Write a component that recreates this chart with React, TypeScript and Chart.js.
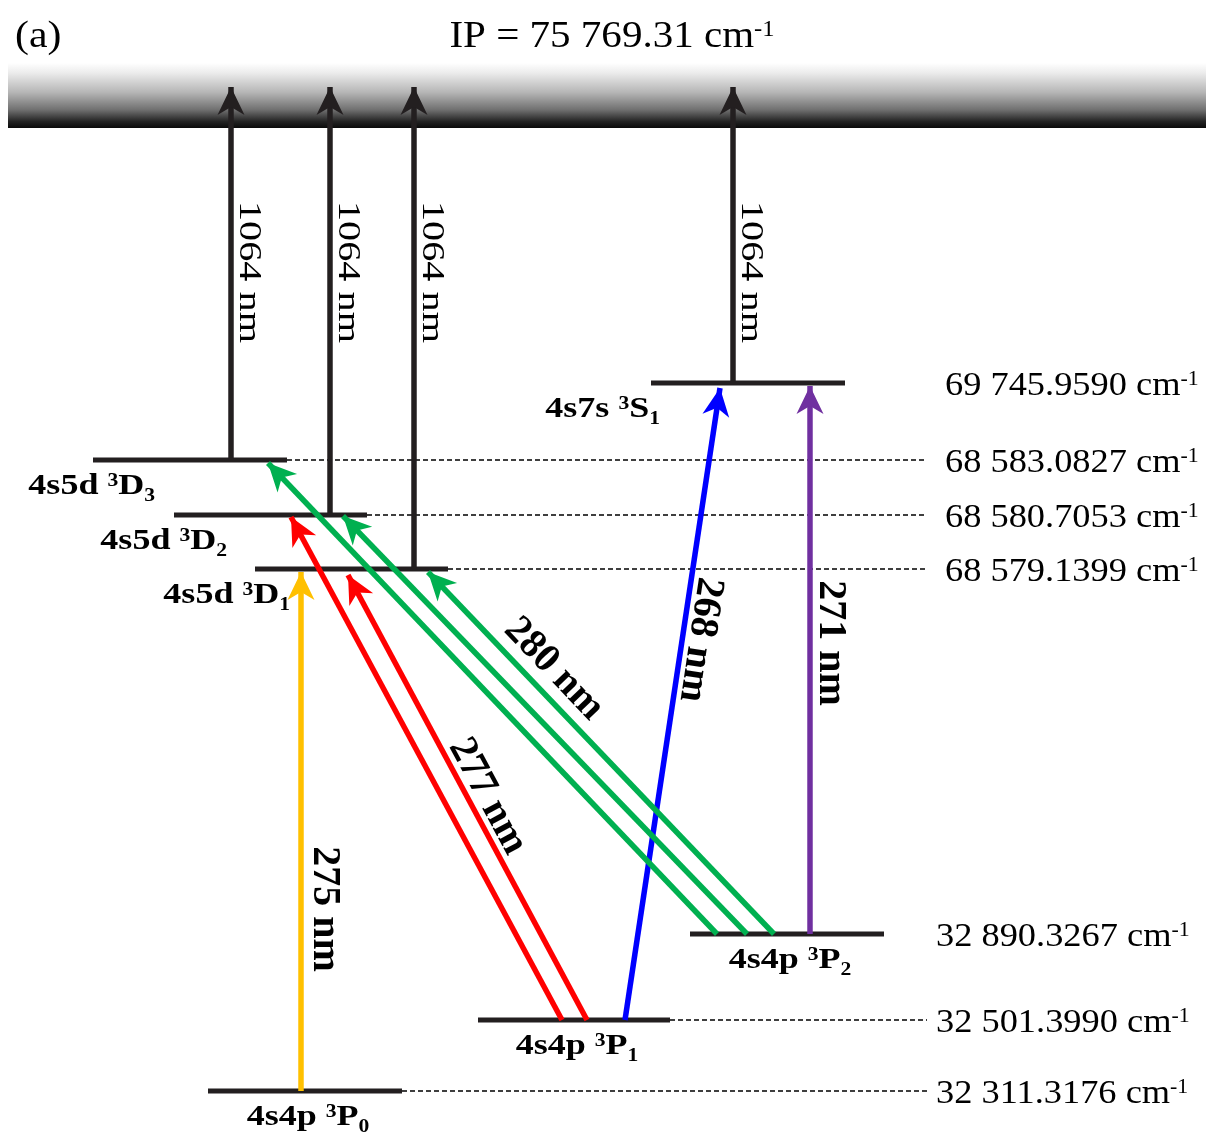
import React, { useEffect, useRef } from 'react';
import { Chart, registerables } from 'chart.js';

Chart.register(...registerables);

const W = 1206;
const H = 1136;

// ---- Energy levels (schematic diagram; heights in drawing units from the bottom) ----
const levelConfig = ['4s4p', '4s4p', '4s4p', '4s5d', '4s5d', '4s5d', '4s7s'];
const levelTerm = ['P', 'P', 'P', 'D', 'D', 'D', 'S'];
const levelJ = ['0', '1', '2', '1', '2', '3', '1'];
const levelEnergy = [32311.3176, 32501.399, 32890.3267, 68579.1399, 68580.7053, 68583.0827, 69745.959];
const levelHeight = [45, 116, 202, 567, 621, 676, 753];
const levelLeft = [208, 478, 690, 255, 174, 93, 651];
const levelRight = [402, 670, 884, 448, 367, 287, 845];
const levelDashed = [true, true, false, true, true, true, false];
const dashEnd = 927;

// ---- Ionization limit ----
const ipEnergy = 75769.31;
const ipBottom = 1008;
const ipTop = 1073;

// ---- Ionizing arrows (1064 nm) ----
const ionFromLevel = [5, 4, 3, 6];
const ionX = [231, 330, 414, 733];
const ionTipHeight = 1049;
const ionLabel = '1064 nm';

// ---- Excitation arrows ----
const excFromLevel = [0, 1, 1, 2, 2, 2, 1, 2];
const excFromX = [301, 562, 587, 717, 747, 774, 625, 810];
const excToX = [301, 291, 348, 268, 343, 428, 720, 810];
const excTipHeight = [564, 619, 561, 673, 620, 564, 748, 750];
const excColor = ['#FFC000', '#FF0000', '#FF0000', '#00B050', '#00B050', '#00B050', '#0000FF', '#7030A0'];

// ---- Wavelength labels ----
const wlText = ['275 nm', '277 nm', '280 nm', '268 nm', '271 nm'];
const wlArrow = [0, 2, 5, 6, 7];
const wlX = [327, 490, 556, 703, 833];
const wlH = [227, 341, 469, 496, 493];

const INK = '#231F20';
const FAMILY = '"Liberation Serif", "Times New Roman", serif';

type Part = [string, 'n' | 'sup' | 'sub'];

function fmtEnergy(v: number, dec: number): string {
  const s = v.toFixed(dec);
  const [i, f] = s.split('.');
  const ii = i.length > 3 ? i.slice(0, i.length - 3) + ' ' + i.slice(i.length - 3) : i;
  return ii + '.' + f;
}

function drawRich(
  ctx: CanvasRenderingContext2D,
  parts: Part[],
  x: number,
  y: number,
  o: { size: number; bold?: boolean; hScale?: number; align?: 'left' | 'center' | 'right'; rot?: number; middle?: boolean; supScale?: number }
) {
  const size = o.size;
  const bold = !!o.bold;
  const hScale = o.hScale ?? 1;
  const ss = size * (o.supScale ?? 0.6);
  const font = (s: number) => `${bold ? 'bold ' : ''}${s}px ${FAMILY}`;
  const widths: number[] = [];
  let total = 0;
  for (const [t, k] of parts) {
    ctx.font = font(k === 'n' ? size : ss);
    const w = ctx.measureText(t).width;
    widths.push(w);
    total += w;
  }
  ctx.save();
  ctx.translate(x, y);
  ctx.rotate(((o.rot ?? 0) * Math.PI) / 180);
  ctx.scale(hScale, 1);
  let cx = o.align === 'center' ? -total / 2 : o.align === 'right' ? -total : 0;
  const by = o.middle ? size * 0.33 : 0;
  ctx.fillStyle = '#000';
  ctx.textAlign = 'left';
  ctx.textBaseline = 'alphabetic';
  parts.forEach(([t, k], i) => {
    ctx.font = font(k === 'n' ? size : ss);
    const dy = k === 'sup' ? -size * 0.28 : k === 'sub' ? size * 0.22 : 0;
    ctx.fillText(t, cx, by + dy);
    cx += widths[i];
  });
  ctx.restore();
}

function arrowHead(ctx: CanvasRenderingContext2D, fx: number, fy: number, tx: number, ty: number, color: string) {
  const L = 28, HW = 13.5, N = 20;
  const dx = tx - fx, dy = ty - fy;
  const len = Math.hypot(dx, dy);
  const ux = dx / len, uy = dy / len;
  const nx = -uy, ny = ux;
  ctx.save();
  ctx.fillStyle = color;
  ctx.beginPath();
  ctx.moveTo(tx, ty);
  ctx.lineTo(tx - L * ux + HW * nx, ty - L * uy + HW * ny);
  ctx.lineTo(tx - N * ux, ty - N * uy);
  ctx.lineTo(tx - L * ux - HW * nx, ty - L * uy - HW * ny);
  ctx.closePath();
  ctx.fill();
  ctx.restore();
}

const diagramPlugin = {
  id: 'diagram',
  beforeDatasetsDraw(chart: any) {
    const { ctx, scales } = chart;
    const xs = scales.x, ys = scales.y;
    const top = ys.getPixelForValue(ipTop);
    const bot = ys.getPixelForValue(ipBottom);
    const left = xs.getPixelForValue(8);
    const right = xs.getPixelForValue(W);
    const g = ctx.createLinearGradient(0, top, 0, bot);
    g.addColorStop(0, 'rgba(255,255,255,1)');
    g.addColorStop(0.15, 'rgb(236,236,236)');
    g.addColorStop(0.45, 'rgb(182,182,182)');
    g.addColorStop(0.72, 'rgb(112,112,112)');
    g.addColorStop(0.9, 'rgb(35,35,35)');
    g.addColorStop(1, 'rgb(10,10,10)');
    ctx.save();
    ctx.fillStyle = g;
    ctx.fillRect(left, top, right - left, bot - top);
    ctx.restore();
  },
  afterDatasetsDraw(chart: any) {
    const { ctx, scales } = chart;
    const xs = scales.x, ys = scales.y;
    const px = (v: number) => xs.getPixelForValue(v);
    const py = (v: number) => ys.getPixelForValue(v);

    // arrowheads
    ionX.forEach((x, i) => {
      arrowHead(ctx, px(x), py(levelHeight[ionFromLevel[i]]), px(x), py(ionTipHeight), INK);
    });
    excFromX.forEach((x, i) => {
      arrowHead(ctx, px(x), py(levelHeight[excFromLevel[i]]), px(excToX[i]), py(excTipHeight[i]), excColor[i]);
    });

    // title and panel letter
    drawRich(ctx, [['(a)', 'n']], 15, 47, { size: 38, hScale: 1.1 });
    drawRich(ctx, [['IP = ' + fmtEnergy(ipEnergy, 2) + ' cm', 'n'], ['-1', 'sup']], 612, 47, { size: 38, hScale: 1.08, align: 'center' });

    // level names and energies
    levelHeight.forEach((h, i) => {
      const y = py(h);
      const parts: Part[] = [[levelConfig[i] + ' ', 'n'], ['3', 'sup'], [levelTerm[i], 'n'], [levelJ[i], 'sub']];
      if (levelTerm[i] === 'P') {
        drawRich(ctx, parts, (px(levelLeft[i]) + px(levelRight[i])) / 2 + 3, y + 34, { size: 30, bold: true, hScale: 1.2, align: 'center' });
      } else {
        const endOffset = [35, 53, 62, 9][['1', '2', '3'].indexOf(levelJ[i]) >= 0 && levelTerm[i] === 'D' ? ['1', '2', '3'].indexOf(levelJ[i]) : 3];
        drawRich(ctx, parts, px(levelLeft[i]) + endOffset, y + 34, { size: 30, bold: true, hScale: 1.2, align: 'right' });
      }
      const ex = levelTerm[i] === 'P' ? 936 : 945;
      drawRich(ctx, [[fmtEnergy(levelEnergy[i], 4) + ' cm', 'n'], ['-1', 'sup']], ex, y + 12, { size: 34, hScale: 1.07 });
    });

    // 1064 nm labels
    ionX.forEach((x) => {
      drawRich(ctx, [[ionLabel, 'n']], px(x) + 19, 272, { size: 31, hScale: 1.3, align: 'center', rot: 90, middle: true });
    });

    // wavelength labels, rotated along their arrows
    wlText.forEach((t, i) => {
      const a = wlArrow[i];
      const fx = px(excFromX[a]), fy = py(levelHeight[excFromLevel[a]]);
      const tx = px(excToX[a]), ty = py(excTipHeight[a]);
      const ang = (Math.atan2(fy - ty, fx - tx) * 180) / Math.PI;
      drawRich(ctx, [[t, 'n']], px(wlX[i]), py(wlH[i]), { size: 40, bold: true, align: 'center', rot: ang, middle: true });
    });
  },
};

export default function App() {
  const ref = useRef<HTMLCanvasElement>(null);
  useEffect(() => {
    const line = (pts: { x: number; y: number }[], color: string, width: number, order: number, dash?: number[]) => ({
      data: pts,
      showLine: true,
      borderColor: color,
      backgroundColor: color,
      borderWidth: width,
      borderDash: dash ?? [],
      borderCapStyle: 'butt',
      pointRadius: 0,
      pointHoverRadius: 0,
      fill: false,
      tension: 0,
      order,
    });
    const datasets: any[] = [];
    ionX.forEach((x, i) => {
      datasets.push(line([{ x, y: levelHeight[ionFromLevel[i]] }, { x, y: ionTipHeight }], INK, 5.5, 0));
    });
    excFromX.forEach((x, i) => {
      datasets.push(line([{ x, y: levelHeight[excFromLevel[i]] }, { x: excToX[i], y: excTipHeight[i] }], excColor[i], 5.5, 0));
    });
    levelHeight.forEach((h, i) => {
      datasets.push(line([{ x: levelLeft[i], y: h }, { x: levelRight[i], y: h }], INK, 5, 1));
      if (levelDashed[i]) {
        datasets.push(line([{ x: levelRight[i], y: h }, { x: dashEnd, y: h }], '#000', 1.4, 2, [5, 3]));
      }
    });

    const chart = new Chart(ref.current as HTMLCanvasElement, {
      type: 'scatter',
      data: { datasets },
      options: {
        responsive: false,
        maintainAspectRatio: false,
        animation: false,
        layout: { padding: 0 },
        plugins: { legend: { display: false }, tooltip: { enabled: false }, title: { display: false } },
        events: [],
        scales: {
          x: { type: 'linear', display: false, min: 0, max: W },
          y: { type: 'linear', display: false, min: 0, max: H },
        },
      },
      plugins: [diagramPlugin],
    } as any);
    return () => chart.destroy();
  }, []);
  return (
    <div style={{ position: 'absolute', left: 0, top: 0, width: W, height: H, background: '#fff' }}>
      <canvas ref={ref} width={W} height={H} style={{ display: 'block', width: W, height: H }} />
    </div>
  );
}
